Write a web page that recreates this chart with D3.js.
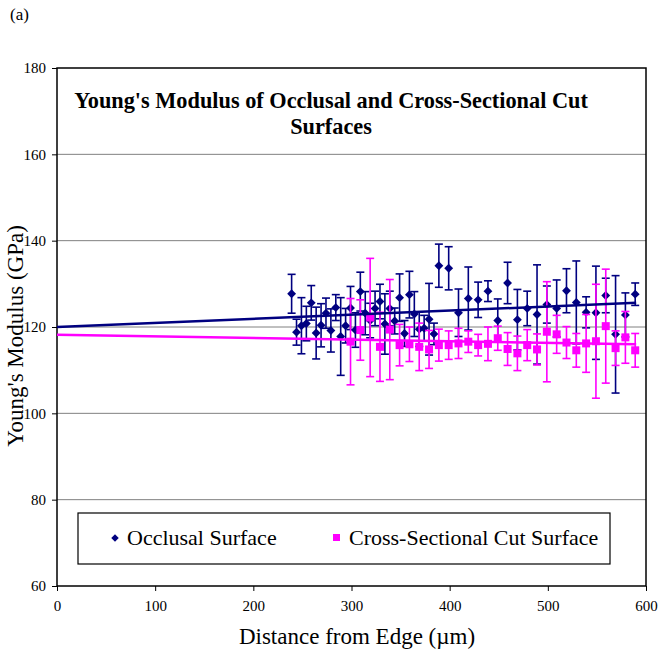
<!DOCTYPE html>
<html><head><meta charset="utf-8">
<script src="https://cdn.jsdelivr.net/npm/d3@7"></script>
<style>
body{margin:0;background:#fff}
svg text{font-family:"Liberation Serif","Times New Roman",serif !important;fill:#000}
</style>
</head><body>
<svg id="c" width="666" height="652"></svg>
<script>
// ---- data ----
const occX = [239,244,249,254,259,264,269,274,279,284,289,294,299,304,309,314,319,324,329,334,339,344,349,354,359,364,369,374,379,384,
              389,399,409,419,429,439,449,459,469,479,489,499,509,519,529,539,549,559,569,579,589];
const occY = [127.7,118.8,120.3,120.8,125.6,118.6,120.4,123.2,119.2,124.5,117.8,120.3,124.4,119.3,128.2,123.2,121.5,124.3,125.9,120.7,124.3,121.4,126.8,118.5,127.5,123.0,119.5,119.7,121.8,118.4,
              134.2,133.6,123.3,126.6,126.3,128.3,121.5,130.2,121.7,124.3,122.9,125.2,124.3,128.4,125.7,123.4,123.3,127.3,118.3,122.8,127.6];
const occErr = [4.5,3,6.5,4,4,6,5,3.5,5,3,9,4,5,4,4.5,5,4,4,4,7,4,3,5.5,3,5.4,5.2,4,3,8.3,2.5,
              5,5,5.5,7.3,4.1,2.4,5,4.8,7,4,11.5,4.3,6.6,5.1,9.6,3.6,10.8,4,13.6,5.1,2.6];
const crossX = [299,309,319,329,339,349,359,369,379,389,399,409,419,429,439,449,459,469,479,489,499,509,519,529,539,549,559,569,579,589];
const crossY = [116.6,119.3,122.2,115.4,119.4,115.8,116.0,115.4,114.8,115.8,115.8,116.2,116.6,115.8,116.1,117.4,114.9,113.9,115.8,114.8,118.9,118.3,116.4,114.6,116.2,116.7,120.2,115.1,117.6,114.6];
const crossErr = [10,7,13.7,8,11.6,4.8,4,5.5,4.4,3.7,3.3,3.5,2.5,2.5,3.9,2.8,3.8,4,3.6,3.6,11.6,4.4,3.7,3.9,6.7,13.2,13.2,4,6,3.9];
const trendX = [0, 590];
const occTrend = [120.0, 125.6];
const crossTrend = [118.2, 116.0];
const xTicks = [0,100,200,300,400,500,600];
const yTicks = [60,80,100,120,140,160,180];
const seriesNames = ["Occlusal Surface","Cross-Sectional Cut Surface"];
const titleLines = ["Young's Modulus of Occlusal and Cross-Sectional Cut","Surfaces"];

// ---- layout ----
const L=57, R=646, T=68, B=586;
const NAVY="#000080", MAG="#ff00ff";
const svg = d3.select("#c");
const x = d3.scaleLinear().domain([0,600]).range([L,R]);
const y = d3.scaleLinear().domain([60,180]).range([B,T]);

svg.append("text").attr("x",10).attr("y",20).attr("font-size",17).text("(a)");

// gridlines
svg.append("g").selectAll("line").data(yTicks.filter(d=>d>60&&d<180)).join("line")
  .attr("x1",L).attr("x2",R).attr("y1",d=>y(d)).attr("y2",d=>y(d))
  .attr("stroke","#808080").attr("stroke-width",1);

// axes
const ya = svg.append("g").attr("transform",`translate(${L},0)`)
  .call(d3.axisLeft(y).tickValues(yTicks).tickSize(5).tickPadding(6));
const xa = svg.append("g").attr("transform",`translate(0,${B})`)
  .call(d3.axisBottom(x).tickValues(xTicks).tickSize(5).tickPadding(9));
[ya,xa].forEach(g=>{
  g.attr("font-family",null);
  g.select(".domain").remove();
  g.selectAll("line").attr("stroke","#000");
  g.selectAll("text").style("font-size","15px").attr("fill","#000");
});
svg.append("rect").attr("x",L).attr("y",T).attr("width",R-L).attr("height",B-T)
  .attr("fill","none").attr("stroke","#000").attr("stroke-width",1.5);

// title
svg.append("text").attr("x",331).attr("y",108).attr("text-anchor","middle")
  .attr("font-size",22.3).attr("font-weight","bold").text(titleLines[0]);
svg.append("text").attr("x",331).attr("y",134).attr("text-anchor","middle")
  .attr("font-size",22.3).attr("font-weight","bold").text(titleLines[1]);

// axis titles
svg.append("text").attr("transform",`translate(23,336) rotate(-90)`)
  .attr("text-anchor","middle").attr("font-size",23).text("Young's Modulus (GPa)");
svg.append("text").attr("x",357).attr("y",644).attr("text-anchor","middle")
  .attr("font-size",23).text("Distance from Edge (\u00b5m)");

function errBars(xs,ys,es,col){
  const g = svg.append("g").attr("stroke",col).attr("stroke-width",1.6);
  xs.forEach((xv,i)=>{
    const cx=x(xv), t=y(ys[i]+es[i]), b=y(ys[i]-es[i]);
    g.append("line").attr("x1",cx).attr("x2",cx).attr("y1",t).attr("y2",b);
    g.append("line").attr("x1",cx-4).attr("x2",cx+4).attr("y1",t).attr("y2",t);
    g.append("line").attr("x1",cx-4).attr("x2",cx+4).attr("y1",b).attr("y2",b);
  });
}
errBars(occX,occY,occErr,NAVY);
svg.append("g").selectAll("path").data(occX).join("path")
  .attr("d",d3.symbol(d3.symbolDiamond2,50))
  .attr("transform",(d,i)=>`translate(${x(d)},${y(occY[i])})`)
  .attr("fill",NAVY);
errBars(crossX,crossY,crossErr,MAG);
svg.append("g").selectAll("rect").data(crossX).join("rect")
  .attr("x",d=>x(d)-4).attr("y",(d,i)=>y(crossY[i])-4).attr("width",8).attr("height",8)
  .attr("fill",MAG);

// trendlines
svg.append("line").attr("x1",x(trendX[0])).attr("x2",x(trendX[1]))
  .attr("y1",y(occTrend[0])).attr("y2",y(occTrend[1])).attr("stroke",NAVY).attr("stroke-width",2.5);
svg.append("line").attr("x1",x(trendX[0])).attr("x2",x(trendX[1]))
  .attr("y1",y(crossTrend[0])).attr("y2",y(crossTrend[1])).attr("stroke",MAG).attr("stroke-width",2.5);

// legend
svg.append("rect").attr("x",78).attr("y",513).attr("width",532).attr("height",51)
  .attr("fill","#fff").attr("stroke","#000").attr("stroke-width",1.2);
svg.append("path").attr("d",d3.symbol(d3.symbolDiamond2,36)()).attr("transform","translate(115,538)").attr("fill",NAVY);
svg.append("text").attr("x",127).attr("y",545).attr("font-size",22).text(seriesNames[0]);
svg.append("rect").attr("x",333).attr("y",534).attr("width",7).attr("height",7).attr("fill",MAG);
svg.append("text").attr("x",349).attr("y",545).attr("font-size",22).text(seriesNames[1]);
</script>
</body></html>
